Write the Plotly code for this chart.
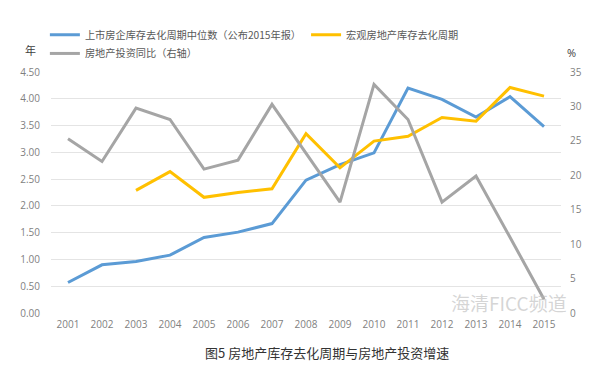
import plotly.graph_objects as go

years = [str(y) for y in range(2001, 2016)]
listed_cycle = [0.57, 0.90, 0.96, 1.08, 1.41, 1.51, 1.67, 2.48, 2.77, 2.99, 4.20, 3.99, 3.66, 4.04, 3.48]
macro_years = [str(y) for y in range(2003, 2016)]
macro_cycle = [2.29, 2.64, 2.16, 2.25, 2.32, 3.35, 2.71, 3.21, 3.30, 3.65, 3.58, 4.21, 4.05]
invest_yoy = [25.3, 22.0, 29.75, 28.1, 20.9, 22.2, 30.3, 23.2, 16.1, 33.2, 28.1, 16.1, 19.9, 11.0, 2.0]

left_ticks = [0, 0.5, 1, 1.5, 2, 2.5, 3, 3.5, 4, 4.5]
right_ticks = [0, 5, 10, 15, 20, 25, 30, 35]

name_blue = "上市房企库存去化周期中位数（公布2015年报）"
name_yellow = "宏观房地产库存去化周期"
name_gray = "房地产投资同比（右轴）"
title_text = "图5 房地产库存去化周期与房地产投资增速"

CJK = "Noto Sans CJK SC"
tick_font = dict(family="Open Sans, " + CJK, size=10, color="#7f7f7f")

# the page body has a default 8px margin, so the figure is 8px smaller
OFF = 8

fig = go.Figure()
fig.add_trace(go.Scatter(x=years, y=listed_cycle, mode="lines", name=name_blue,
                         line=dict(color="#5B9BD5", width=3), legend="legend"))
fig.add_trace(go.Scatter(x=macro_years, y=macro_cycle, mode="lines", name=name_yellow,
                         line=dict(color="#FFC000", width=3), legend="legend"))
fig.add_trace(go.Scatter(x=years, y=invest_yoy, mode="lines", name=name_gray,
                         line=dict(color="#A5A5A5", width=3), yaxis="y2", legend="legend2"))

fig.update_layout(
    width=593 - OFF, height=365 - OFF,
    margin=dict(l=51 - OFF, r=32, t=71.5 - OFF, b=52.3, pad=0, autoexpand=False),
    paper_bgcolor="white", plot_bgcolor="white",
    font=dict(family=CJK, color="#595959"),
    xaxis=dict(type="category", categoryorder="array", categoryarray=years,
               range=[-0.5, 14.5], showgrid=False, showline=False, zeroline=False,
               ticks="", tickfont=tick_font, ticklabelstandoff=4, automargin=False),
    yaxis=dict(range=[0, 4.5], tickvals=left_ticks, tickformat=".2f",
               showgrid=True, gridcolor="#E4E4E4", gridwidth=1, zeroline=False,
               showline=False, ticks="", tickfont=tick_font, ticklabelstandoff=10,
               automargin=False),
    yaxis2=dict(range=[0, 35], tickvals=right_ticks, overlaying="y", side="right",
                showgrid=False, zeroline=False, showline=False, ticks="",
                tickfont=tick_font, ticklabelstandoff=8, automargin=False),
    legend=dict(orientation="h", x=-0.012, xanchor="left", y=1.155, yanchor="middle",
                font=dict(family=CJK, size=10.2, color="#595959"),
                bgcolor="rgba(0,0,0,0)", itemwidth=30,
                traceorder="normal"),
    legend2=dict(orientation="h", x=-0.012, xanchor="left", y=1.077, yanchor="middle",
                 font=dict(family=CJK, size=10.2, color="#595959"),
                 bgcolor="rgba(0,0,0,0)", itemwidth=30),
    showlegend=True,
)

fig.add_annotation(text="年", xref="paper", yref="paper", x=-0.04, y=1.09,
                   showarrow=False, xanchor="center", yanchor="middle",
                   font=dict(family=CJK, size=11, color="#404040"))
fig.add_annotation(text="%", xref="paper", yref="paper", x=1.02, y=1.08,
                   showarrow=False, xanchor="center", yanchor="middle",
                   font=dict(family="Open Sans", size=11, color="#404040"))
fig.add_annotation(text="海清FICC频道", xref="paper", yref="paper", x=1.015, y=0.045,
                   showarrow=False, xanchor="right", yanchor="middle",
                   font=dict(family=CJK, size=19, color="rgba(185,185,185,0.6)"))
fig.add_annotation(text=title_text, xref="paper", yref="paper", x=(327 - 51) / 510,
                   y=-(352 - 312.7) / 241.2, showarrow=False, xanchor="center",
                   yanchor="middle", font=dict(family=CJK, size=13, color="#333333"))

fig.write_html("out.html")
